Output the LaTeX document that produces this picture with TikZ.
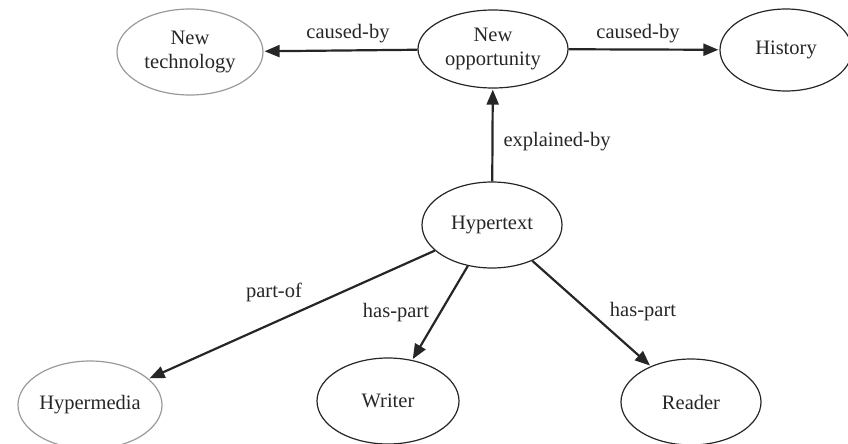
\documentclass[tikz,border=0pt]{standalone}
\usepackage{fontspec}
\setmainfont{Liberation Serif}
\usetikzlibrary{shapes.geometric,arrows.meta}
\definecolor{ink}{HTML}{262626}
\definecolor{faint}{HTML}{9A9A9A}
\tikzset{
  concept/.style={ellipse, draw=ink, line width=1.2pt, inner sep=0pt,
    text=ink, align=center, font=\fontsize{20.5}{24}\selectfont},
  soft/.style={draw=faint},
  rel/.style={draw=ink, line width=2.2pt,
    -{Triangle[length=15pt,width=12pt]}, shorten >=1pt},
  lbl/.style={text=ink, font=\fontsize{20.5}{24}\selectfont, inner sep=0pt}
}
\begin{document}
\begin{tikzpicture}[x=1pt,y=-1pt]
\useasboundingbox (0,0) rectangle (848,444);

% concepts
\node[concept, soft, minimum width=146pt, minimum height=86pt] (tech) at (190,52) {New\\technology};
\node[concept, minimum width=150pt, minimum height=78pt] (opp) at (493,49) {New\\opportunity};
\node[concept, minimum width=132pt, minimum height=82pt] (hist) at (786,50) {History};
\node[concept, minimum width=140pt, minimum height=86pt] (hyper) at (492,225) {Hypertext};
\node[concept, soft, minimum width=144pt, minimum height=88pt] (media) at (90,405) {Hypermedia};
\node[concept, minimum width=142pt, minimum height=86pt] (writer) at (388,401) {Writer};
\node[concept, minimum width=140pt, minimum height=86pt] (reader) at (691,402) {Reader};

% relations
\draw[rel] (opp) -- (tech);
\draw[rel] (opp) -- (hist);
\draw[rel] (hyper) -- (opp);
\draw[rel] (hyper) -- (media);
\draw[rel] (hyper) -- (writer);
\draw[rel] (hyper) -- (reader);

% relation labels
\node[lbl] (l1) at (348,34) {caused-by};
\node[lbl] (l2) at (638,34) {caused-by};
\node[lbl] (l3) at (557,142) {explained-by};
\node[lbl] (l4) at (274,292) {part-of};
\node[lbl] (l5) at (396,313) {has-part};
\node[lbl] (l6) at (643,312) {has-part};
\end{tikzpicture}
\end{document}
